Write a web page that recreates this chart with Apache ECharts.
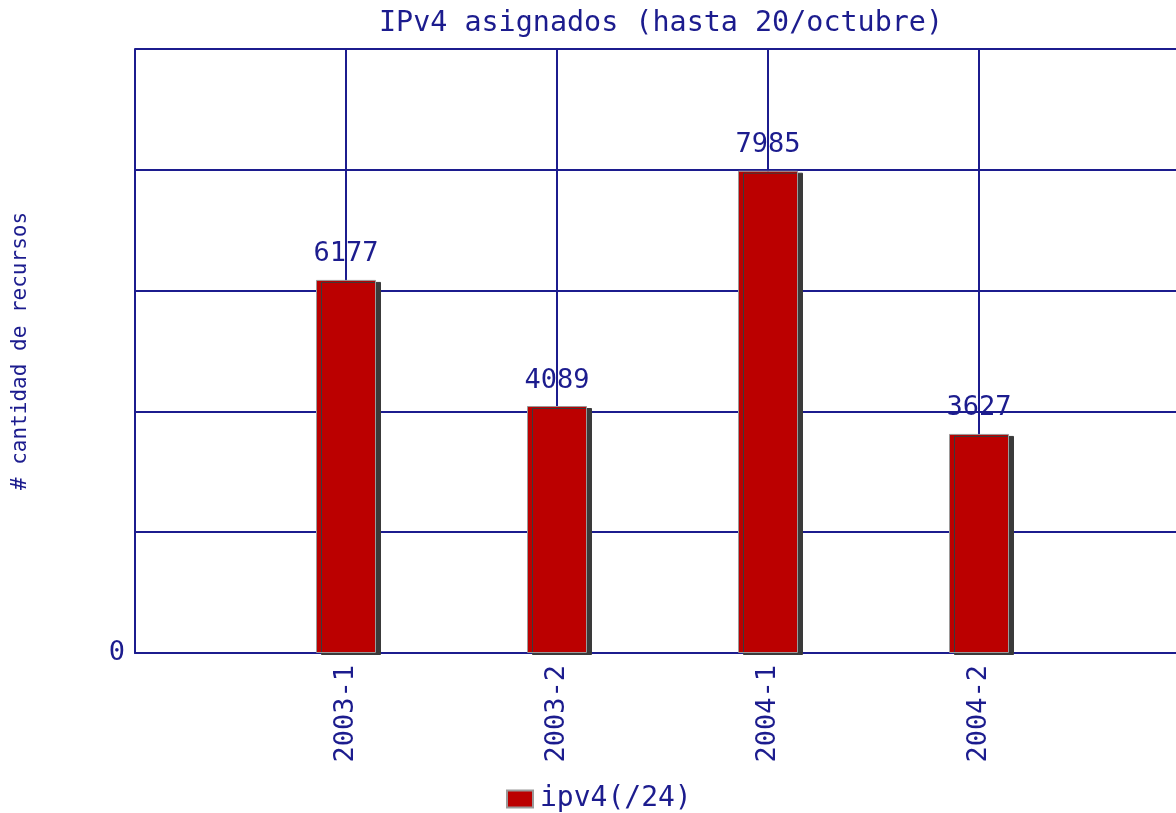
<!DOCTYPE html>
<html>
<head>
<meta charset="utf-8">
<script src="https://cdn.jsdelivr.net/npm/echarts@6/dist/echarts.min.js"></script>
<style>
    html, body { margin: 0; padding: 0; background: #fff; overflow: hidden; }
    /* the plot box runs past the right edge of the window in the original */
    #chart { width: 1200px; height: 813px; }
</style>
</head>
<body>
<div id="chart"></div>
<script>
// empty slots at both ends keep the bars off the plot edges, like the original
const categories = ['', '2003-1', '2003-2', '2004-1', '2004-2', '']
const ipv4Values = [null, 6177, 4089, 7985, 3627, null]
const seriesName = 'ipv4(/24)'

const BLUE = '#1c1c8e'
const FONT = 'DejaVu Sans Mono'

const chart = echarts.init(document.getElementById('chart'))

const option = {
    animation: false,
    textStyle: { fontFamily: FONT, color: BLUE },
    title: {
        text: 'IPv4 asignados (hasta 20/octubre)',
        left: 656,
        textAlign: 'center',
        top: 5,
        textStyle: {
            fontFamily: FONT,
            fontWeight: 'normal',
            fontSize: 28.4,
            color: BLUE,
        },
    },
    grid: {
        left: 135,
        top: 49,
        width: 1055,
        height: 604,
        containLabel: false,
    },
    legend: {
        left: 501,
        top: 780,
        itemWidth: 26,
        itemHeight: 17,
        itemGap: 6,
        textStyle: { fontFamily: FONT, fontSize: 28, color: BLUE, padding: [0, 0, 0, 2] },
        data: [{ name: seriesName, icon: 'rect' }],
    },
    xAxis: {
        type: 'category',
        data: categories,
        boundaryGap: false,
        axisLine: { show: true, lineStyle: { color: BLUE, width: 2 } },
        axisTick: { show: false },
        axisLabel: {
            rotate: 90,
            margin: 12,
            interval: 0,
            fontFamily: FONT,
            fontSize: 27,
            color: BLUE,
        },
        splitLine: { show: true, lineStyle: { color: BLUE, width: 2 } },
    },
    yAxis: {
        type: 'value',
        min: 0,
        max: 10000,
        interval: 2000,
        name: '# cantidad de recursos',
        nameLocation: 'middle',
        nameGap: 104,
        nameRotate: 90,
        nameTextStyle: { fontFamily: FONT, fontSize: 21, color: BLUE },
        axisLine: { show: true, lineStyle: { color: BLUE, width: 2 } },
        axisTick: { show: false },
        axisLabel: {
            margin: 10,
            fontFamily: FONT,
            fontSize: 27,
            color: BLUE,
            formatter: (v) => (v === 0 ? '0' : ''),
        },
        splitLine: { show: true, lineStyle: { color: BLUE, width: 2 } },
    },
    series: [
        {
            name: seriesName,
            type: 'bar',
            data: ipv4Values,
            barWidth: 60,
            itemStyle: {
                color: '#bb0000',
                borderColor: '#9a9a9a',
                borderWidth: 1,
                shadowColor: '#3a3a3a',
                shadowOffsetX: 5,
                shadowOffsetY: 2,
                shadowBlur: 0,
            },
            label: {
                show: true,
                position: 'top',
                distance: 12,
                fontFamily: FONT,
                fontSize: 27,
                color: BLUE,
            },
        },
    ],
}

chart.setOption(option)
</script>
</body>
</html>
